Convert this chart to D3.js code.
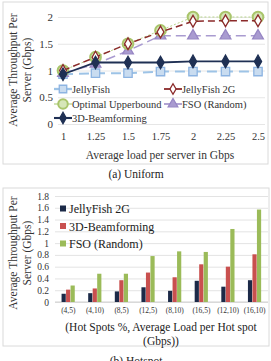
<!DOCTYPE html>
<html>
<head>
<meta charset="utf-8">
<script src="https://cdn.jsdelivr.net/npm/d3@7"></script>
<style>
  body { margin: 0; background: #fff; }
  svg text { font-family: "Liberation Serif", "DejaVu Serif", serif; }
</style>
</head>
<body>
<script>
// ---- data: (a) Uniform
const loads = ["1", "1.25", "1.5", "1.75", "2", "2.25", "2.5"];
const jellyFish   = [0.93, 0.95, 0.95, 0.98, 0.98, 0.98, 0.98];
const jellyFish2G = [1.0, 1.25, 1.5, 1.72, 1.92, 1.93, 1.93];
const optimal     = [1.0, 1.25, 1.5, 1.75, 2.0, 2.0, 2.0];
const fsoRandom   = [0.95, 1.12, 1.37, 1.65, 1.65, 1.65, 1.65];
const beam3D      = [0.93, 1.15, 1.15, 1.15, 1.17, 1.17, 1.17];
const uniformTicks = [0, 0.5, 1, 1.5, 2];

// ---- data: (b) Hotspot
const hotspots = ["(4,5)", "(4,10)", "(8,5)", "(12,5)", "(8,10)", "(16,5)", "(12,10)", "(16,10)"];
const hsJelly2G = [0.14, 0.15, 0.18, 0.25, 0.19, 0.36, 0.26, 0.37];
const hsBeam3D  = [0.21, 0.23, 0.37, 0.50, 0.42, 0.64, 0.60, 0.81];
const hsFso     = [0.28, 0.48, 0.48, 0.78, 0.86, 0.85, 1.24, 1.57];
const hotspotTicks = [0, 0.2, 0.4, 0.6, 0.8, 1, 1.2, 1.4, 1.6, 1.8];

const FONT = "Liberation Serif";

const svg = d3.select("body").append("svg")
    .attr("width", 271)
    .attr("height", 361)
    .attr("font-family", FONT);

// ================= (a) Uniform =================
const gTop = svg.append("g");

gTop.append("rect")
    .attr("x", 3).attr("y", 2).attr("width", 265).attr("height", 162)
    .attr("fill", "none").attr("stroke", "#dadada");

const x1 = d3.scalePoint().domain(loads).range([63, 258]);
const y1 = d3.scaleLinear().domain([0, 2]).range([124, 17]);

// gridlines
gTop.append("g")
    .attr("transform", "translate(58,0)")
    .call(d3.axisLeft(y1).tickValues(uniformTicks).tickSize(-207).tickFormat(""))
    .call(g => g.select(".domain").remove())
    .selectAll("line").attr("stroke", "#e6e6e6");

// y tick labels
gTop.append("g")
    .attr("transform", "translate(56,0)")
    .call(d3.axisLeft(y1).tickValues(uniformTicks).tickSize(0).tickPadding(3).tickFormat(d3.format("")))
    .call(g => g.select(".domain").remove())
    .selectAll("text")
    .attr("font-family", FONT).attr("font-size", 11).attr("fill", "#333");

// x tick labels
gTop.append("g")
    .attr("transform", "translate(0,131)")
    .call(d3.axisBottom(x1).tickSize(0).tickPadding(2))
    .call(g => g.select(".domain").remove())
    .selectAll("text")
    .attr("font-family", FONT).attr("font-size", 10.5).attr("fill", "#333");

// axis titles
gTop.append("text")
    .attr("x", 160).attr("y", 159)
    .attr("text-anchor", "middle").attr("font-size", 11.5).attr("fill", "#333")
    .text("Average load per server in Gbps");

const yt1 = gTop.append("text")
    .attr("transform", "translate(0,70) rotate(-90)")
    .attr("text-anchor", "middle").attr("font-size", 11.5).attr("fill", "#333");
yt1.append("tspan").attr("x", 0).attr("y", 17).text("Average Throughput Per");
yt1.append("tspan").attr("x", 0).attr("y", 31).text("Server (Gbps)");

// series
const lineSeries = [
  {name: "JellyFish", values: jellyFish, stroke: "#9dc3e6", width: 2, dash: "10,6",
   marker: "square", fill: "#c9dcf0", mstroke: "#8db4e2", size: 70},
  {name: "JellyFish 2G", values: jellyFish2G, stroke: "#8b2a2a", width: 1.5, dash: "7,4",
   marker: "diamond", fill: "#fff", mstroke: "#8b2a2a", size: 40},
  {name: "Optimal Upperbound", values: optimal, stroke: "#b7d48a", width: 1, dash: "2,2",
   marker: "circle", fill: "#d6e6b8", mstroke: "#a9c56b", size: 90},
  {name: "FSO (Random)", values: fsoRandom, stroke: "#a99bd0", width: 1.5, dash: "10,5",
   marker: "triangle", fill: "#a99bd0", mstroke: "#9786c4", size: 50},
  {name: "3D-Beamforming", values: beam3D, stroke: "#1f3054", width: 1.8, dash: null,
   marker: "diamond", fill: "#1f3054", mstroke: "#1f3054", size: 45}
];
const symbolType = {
  square: d3.symbolSquare, diamond: d3.symbolDiamond,
  circle: d3.symbolCircle, triangle: d3.symbolTriangle
};

const line = d3.line().x((d, i) => x1(loads[i])).y(d => y1(d));

// draw order: back to front
const drawOrder = [0, 3, 2, 1, 4];
drawOrder.forEach(k => {
  const s = lineSeries[k];
  gTop.append("path")
      .datum(s.values)
      .attr("d", line)
      .attr("fill", "none")
      .attr("stroke", s.stroke)
      .attr("stroke-width", s.width)
      .attr("stroke-dasharray", s.dash);
  gTop.selectAll(null)
      .data(s.values)
      .join("path")
      .attr("transform", (d, i) => `translate(${x1(loads[i])},${y1(d)})`)
      .attr("d", d3.symbol().type(symbolType[s.marker]).size(s.size))
      .attr("fill", s.fill)
      .attr("stroke", s.mstroke)
      .attr("stroke-width", s.marker === "circle" ? 2 : 1.3);
});

// legend
const legPos = [[63, 89], [173, 89], [63, 104], [173, 104], [63, 118]];
lineSeries.forEach((s, i) => {
  const [lx, ly] = legPos[i];
  const g = gTop.append("g").attr("transform", `translate(${lx},${ly})`);
  g.append("line")
      .attr("x1", -9).attr("x2", 9)
      .attr("stroke", s.stroke).attr("stroke-width", s.width + 0.3);
  g.append("path")
      .attr("d", d3.symbol().type(symbolType[s.marker]).size(s.size * 0.8))
      .attr("fill", s.fill).attr("stroke", s.mstroke)
      .attr("stroke-width", s.marker === "circle" ? 2 : 1.3);
  g.append("text")
      .attr("x", 9).attr("y", 3.5)
      .attr("font-size", 10.5).attr("fill", "#333")
      .text(s.name);
});

svg.append("text")
    .attr("x", 136).attr("y", 178)
    .attr("text-anchor", "middle").attr("font-size", 11.5).attr("fill", "#222")
    .text("(a) Uniform");

// ================= (b) Hotspot =================
const gBot = svg.append("g");

gBot.append("rect")
    .attr("x", 3).attr("y", 188).attr("width", 266).attr("height", 158)
    .attr("fill", "none").attr("stroke", "#dadada");

const x2 = d3.scaleBand().domain(hotspots).range([55, 268]);
const y2 = d3.scaleLinear().domain([0, 1.8]).range([302, 196]);
const barSeries = [
  {name: "JellyFish 2G", values: hsJelly2G, color: "#1c2a48"},
  {name: "3D-Beamforming", values: hsBeam3D, color: "#c9504f"},
  {name: "FSO (Random)", values: hsFso, color: "#9bbb59"}
];
const xs = d3.scaleBand().domain(d3.range(barSeries.length)).range([0, 13.5]);

gBot.append("g")
    .attr("transform", "translate(55,0)")
    .call(d3.axisLeft(y2).tickValues(hotspotTicks).tickSize(-213).tickFormat(""))
    .call(g => g.select(".domain").remove())
    .selectAll("line").attr("stroke", "#e3e3e3");

gBot.append("g")
    .attr("transform", "translate(51,0)")
    .call(d3.axisLeft(y2).tickValues(hotspotTicks).tickSize(0).tickPadding(2).tickFormat(d3.format("")))
    .call(g => g.select(".domain").remove())
    .selectAll("text")
    .attr("font-family", FONT).attr("font-size", 9.5).attr("fill", "#333");

gBot.append("line")
    .attr("x1", 55).attr("x2", 268)
    .attr("y1", y2(0)).attr("y2", y2(0))
    .attr("stroke", "#d0d0d0");

barSeries.forEach((s, k) => {
  gBot.selectAll(null)
      .data(s.values)
      .join("rect")
      .attr("x", (d, i) => x2(hotspots[i]) + x2.bandwidth() / 2 - 6.75 + xs(k))
      .attr("y", d => y2(d))
      .attr("width", xs.bandwidth() - 0.3)
      .attr("height", d => y2(0) - y2(d))
      .attr("fill", s.color);
});

gBot.append("g")
    .attr("transform", "translate(0,308)")
    .call(d3.axisBottom(x2).tickSize(0).tickPadding(0))
    .call(g => g.select(".domain").remove())
    .selectAll("text")
    .attr("font-family", FONT).attr("font-size", 7.5).attr("fill", "#333");

barSeries.forEach((s, i) => {
  const g = gBot.append("g").attr("transform", `translate(60,${209 + i * 17.5})`);
  g.append("rect").attr("x", 0).attr("y", -3.5).attr("width", 6).attr("height", 6).attr("fill", s.color);
  g.append("text").attr("x", 9).attr("y", 4)
      .attr("font-size", 12).attr("fill", "#222").text(s.name);
});

const xt2 = gBot.append("text")
    .attr("text-anchor", "middle").attr("font-size", 11.5).attr("fill", "#222");
xt2.append("tspan").attr("x", 161).attr("y", 331).text("(Hot Spots %, Average Load per Hot spot");
xt2.append("tspan").attr("x", 161).attr("y", 345).text("(Gbps))");

const yt2 = gBot.append("text")
    .attr("transform", "translate(0,253) rotate(-90)")
    .attr("text-anchor", "middle").attr("font-size", 11.5).attr("fill", "#333");
yt2.append("tspan").attr("x", 0).attr("y", 17).text("Average Throughput Per");
yt2.append("tspan").attr("x", 0).attr("y", 31).text("Server (Gbps)");

svg.append("text")
    .attr("x", 136).attr("y", 365)
    .attr("text-anchor", "middle").attr("font-size", 11.5).attr("fill", "#222")
    .text("(b) Hotspot");
</script>
</body>
</html>
